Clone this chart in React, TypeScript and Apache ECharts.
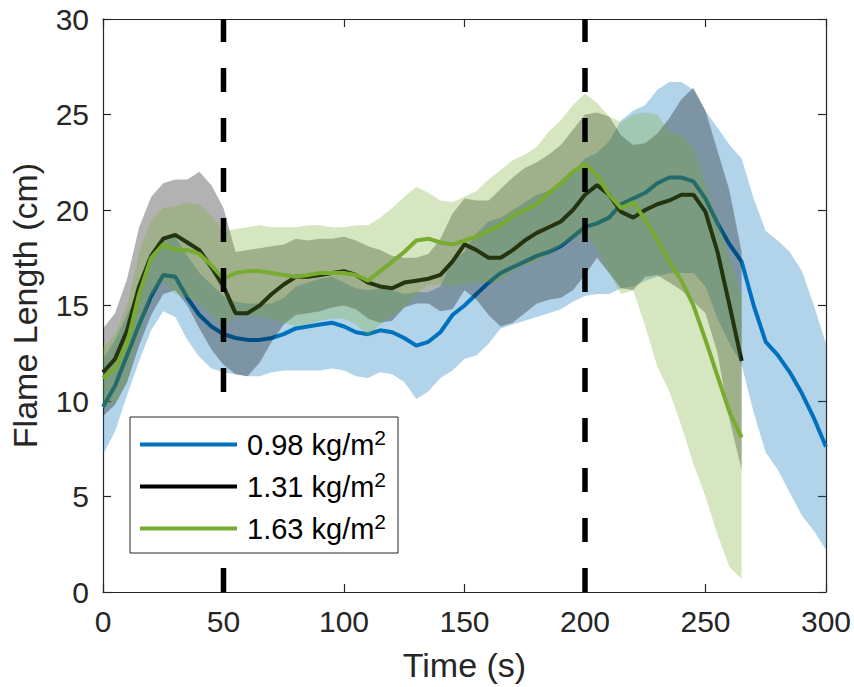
import React, { useEffect, useRef } from "react";
import * as echarts from "echarts";

const timeLong = [0,5,10,15,20,25,30,35,40,45,50,55,60,65,70,75,80,85,90,95,100,105,110,115,120,125,130,135,140,145,150,155,160,165,170,175,180,185,190,195,200,205,210,215,220,225,230,235,240,245,250,255,260,265,270,275,280,285,290,295,300];
const timeShort = [0,5,10,15,20,25,30,35,40,45,50,55,60,65,70,75,80,85,90,95,100,105,110,115,120,125,130,135,140,145,150,155,160,165,170,175,180,185,190,195,200,205,210,215,220,225,230,235,240,245,250,255,260,265];

const blueMean = [9.7,10.8,12.4,14.0,15.5,16.6,16.5,15.4,14.5,13.9,13.5,13.3,13.2,13.2,13.3,13.5,13.8,13.9,14.0,14.1,13.9,13.6,13.5,13.7,13.6,13.3,12.9,13.1,13.6,14.5,15.0,15.6,16.2,16.7,17.0,17.3,17.6,17.8,18.1,18.6,19.1,19.3,19.6,20.3,20.6,20.9,21.4,21.7,21.7,21.5,20.6,19.3,18.2,17.3,15.0,13.1,12.4,11.5,10.4,9.1,7.6];
const blueSd = [2.5,2.4,2.1,1.9,1.8,1.9,2.1,2.2,2.2,2.2,2.0,1.9,1.9,1.9,1.8,1.9,2.2,2.3,2.4,2.4,2.3,2.3,2.3,2.2,2.2,2.3,2.8,2.6,2.4,2.9,2.8,3.2,3.2,2.9,3.0,3.1,3.2,3.2,3.3,3.4,3.6,3.7,4.0,4.4,4.6,4.6,4.9,5.0,5.0,4.8,4.6,5.0,5.2,5.4,5.6,5.8,6.0,6.3,6.4,5.9,5.4];

const blackMean = [11.5,12.2,13.7,16.0,17.6,18.5,18.7,18.3,17.9,17.0,16.0,14.6,14.6,15.0,15.6,16.1,16.5,16.5,16.6,16.7,16.8,16.6,16.2,16.0,15.9,16.2,16.3,16.4,16.6,17.3,18.2,17.9,17.5,17.5,17.9,18.4,18.8,19.1,19.4,20.0,20.8,21.3,20.8,19.9,19.6,20.0,20.3,20.5,20.8,20.8,19.9,17.8,15.0,12.1];
const blackSd = [2.3,2.4,2.7,3.1,3.1,2.9,2.9,3.3,4.1,4.3,4.1,3.2,3.3,3.0,2.5,2.1,2.0,1.9,1.9,1.8,1.8,1.8,1.9,1.9,1.7,1.3,1.2,1.3,1.9,2.5,2.4,2.6,3.0,3.6,3.8,3.8,3.7,3.8,4.0,4.2,4.2,3.8,4.1,4.0,3.8,3.5,3.7,4.3,5.0,5.6,5.3,5.3,6.0,5.7];

const greenMean = [11.2,11.7,13.0,15.6,17.5,18.2,17.9,17.9,17.7,17.1,16.4,16.7,16.8,16.8,16.7,16.6,16.5,16.6,16.7,16.7,16.7,16.6,16.3,16.8,17.3,17.8,18.4,18.5,18.3,18.2,18.4,18.6,18.9,19.2,19.7,20.0,20.3,20.9,21.4,22.0,22.4,21.8,20.8,20.1,20.4,19.5,18.4,17.3,16.3,15.0,13.2,11.3,9.4,8.1];
const greenSd = [1.6,1.8,2.0,2.2,2.0,1.9,2.3,2.5,2.6,2.6,2.5,2.3,2.3,2.4,2.4,2.5,2.6,2.6,2.5,2.4,2.4,2.6,2.9,2.8,2.8,2.9,2.8,2.4,2.2,2.2,2.3,2.4,2.7,2.9,2.9,2.9,3.0,3.2,3.3,3.5,3.7,3.8,4.1,4.5,4.6,5.6,6.6,6.8,7.6,8.3,8.2,8.3,8.1,7.4];

const seriesNames = ["0.98 kg/m2", "1.31 kg/m2", "1.63 kg/m2"];
const seriesColors = ["#0072BD", "#000000", "#77AC30"];
const markerTimes = [50, 200];
const xTicks = { min: 0, max: 300, step: 50 };
const yTicks = { min: 0, max: 30, step: 5 };

const FONT = "'Liberation Sans', Arial, Helvetica, sans-serif";
const AXIS_COLOR = "#262626";

function bandSeries(key: string, t: number[], mean: number[], sd: number[], color: string, z: number) {
  return {
    name: key + "-band",
    type: "custom",
    silent: true,
    clip: true,
    z,
    data: [[t[0], mean[0]]],
    renderItem: (params: any, api: any) => {
      const upper = t.map((x, i) => api.coord([x, mean[i] + sd[i]]));
      const lower = t.map((x, i) => api.coord([x, mean[i] - sd[i]])).reverse();
      return {
        type: "polygon",
        shape: { points: upper.concat(lower) },
        style: { fill: color, opacity: 0.3, stroke: "none" },
      };
    },
  };
}

function meanSeries(name: string, t: number[], mean: number[], color: string, z: number) {
  return {
    name,
    type: "line",
    data: t.map((x, i) => [x, mean[i]]),
    symbol: "none",
    silent: true,
    lineStyle: { color, width: 4 },
    itemStyle: { color },
    z,
  };
}

export default function App() {
  const ref = useRef<HTMLDivElement>(null);
  useEffect(() => {
    if (!ref.current) return;
    const chart = echarts.init(ref.current, undefined, { renderer: "svg" });

    const axisCommon = {
      type: "value",
      splitLine: { show: false },
      axisLine: { show: true, onZero: false, lineStyle: { color: AXIS_COLOR, width: 1.2 } },
      axisTick: { show: true, inside: true, length: 8, lineStyle: { color: AXIS_COLOR, width: 1.2 } },
    };

    const series: any[] = [
      bandSeries("blue", timeLong, blueMean, blueSd, seriesColors[0], 2),
      meanSeries(seriesNames[0], timeLong, blueMean, seriesColors[0], 3),
      bandSeries("black", timeShort, blackMean, blackSd, seriesColors[1], 4),
      meanSeries(seriesNames[1], timeShort, blackMean, seriesColors[1], 5),
      bandSeries("green", timeShort, greenMean, greenSd, seriesColors[2], 6),
      meanSeries(seriesNames[2], timeShort, greenMean, seriesColors[2], 7),
      ...markerTimes.map((m, i) => ({
        name: "marker" + i,
        type: "line",
        data: [[m, yTicks.min], [m, yTicks.max]],
        symbol: "none",
        silent: true,
        lineStyle: { color: "#000000", width: 5.5, type: [24, 26], cap: "butt" },
        z: 8,
      })),
    ];

    chart.setOption({
      animation: false,
      textStyle: { fontFamily: FONT },
      grid: { left: 103, right: 25, top: 19, bottom: 94 },
      xAxis: [
        {
          ...axisCommon,
          position: "bottom",
          min: xTicks.min,
          max: xTicks.max,
          interval: xTicks.step,
          axisLabel: { fontSize: 30, color: AXIS_COLOR, fontFamily: FONT, margin: 14 },
          name: "Time (s)",
          nameLocation: "middle",
          nameGap: 56,
          nameTextStyle: { fontSize: 34, color: AXIS_COLOR, fontFamily: FONT },
        },
        {
          ...axisCommon,
          position: "top",
          min: xTicks.min,
          max: xTicks.max,
          interval: xTicks.step,
          axisLabel: { show: false },
        },
      ],
      yAxis: [
        {
          ...axisCommon,
          position: "left",
          min: yTicks.min,
          max: yTicks.max,
          interval: yTicks.step,
          axisLabel: { fontSize: 30, color: AXIS_COLOR, fontFamily: FONT, margin: 14 },
          name: "Flame Length (cm)",
          nameLocation: "middle",
          nameGap: 61,
          nameTextStyle: { fontSize: 34, color: AXIS_COLOR, fontFamily: FONT },
        },
        {
          ...axisCommon,
          position: "right",
          min: yTicks.min,
          max: yTicks.max,
          interval: yTicks.step,
          axisLabel: { show: false },
        },
      ],
      legend: {
        left: 130,
        top: 417,
        orient: "vertical",
        padding: [10, 12, 10, 10],
        itemGap: 10,
        itemWidth: 97,
        itemHeight: 4,
        backgroundColor: "#ffffff",
        borderColor: AXIS_COLOR,
        borderWidth: 1,
        borderRadius: 0,
        selectedMode: false,
        z: 20,
        data: seriesNames.map((n) => ({ name: n, icon: "rect" })),
        formatter: (n: string) => `{a|${n.slice(0, -1)}}{s|${n.slice(-1)}}`,
        textStyle: {
          rich: {
            a: { fontSize: 29, lineHeight: 35, color: "#000000", fontFamily: FONT, padding: [0, 0, 0, 5] },
            s: { fontSize: 21, lineHeight: 16, verticalAlign: "top", color: "#000000", fontFamily: FONT },
          },
        },
      },
      series,
    });
    return () => chart.dispose();
  }, []);

  return (
    <div
      ref={ref}
      style={{ position: "fixed", left: 0, top: 0, width: 854, height: 687, background: "#ffffff" }}
    />
  );
}
